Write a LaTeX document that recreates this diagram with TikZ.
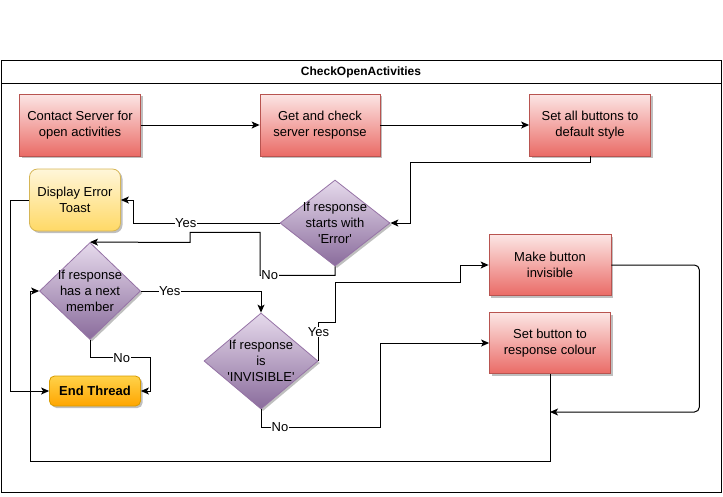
\documentclass[tikz,border=0pt]{standalone}
\usepackage{fontspec}
\setmainfont{Liberation Sans}
\usetikzlibrary{positioning}
\usetikzlibrary{arrows.meta}
\usetikzlibrary{shapes.geometric}
\usetikzlibrary{shadows}

\definecolor{redtop}{HTML}{FCE6E5}
\definecolor{redbot}{HTML}{EA6B66}
\definecolor{redline}{HTML}{B85450}
\definecolor{yeltop}{HTML}{FFF6D9}
\definecolor{yelbot}{HTML}{FFD966}
\definecolor{yelline}{HTML}{D6B656}
\definecolor{purtop}{HTML}{E6DAEC}
\definecolor{purbot}{HTML}{8A6C9C}
\definecolor{purline}{HTML}{9673A6}
\definecolor{oratop}{HTML}{FFD24A}
\definecolor{orabot}{HTML}{FFA500}
\definecolor{oraline}{HTML}{D79B00}

\begin{document}
\begin{tikzpicture}[x=1pt,y=-1pt,line width=1pt,>={Stealth[length=8pt,width=7pt,inset=2pt]},align=center,
  font=\fontsize{13}{15.7}\selectfont,
  shade/.style={drop shadow={shadow xshift=2pt,shadow yshift=-2pt,opacity=0.25,fill=black}},
  taskbox/.style={rectangle,draw=redline,line width=0.8pt,top color=redtop,bottom color=redbot,minimum width=121,minimum height=62,inner sep=0pt,shade},
  toastbox/.style={rectangle,rounded corners=8pt,draw=yelline,line width=0.8pt,top color=yeltop,bottom color=yelbot,minimum width=91,minimum height=62,inner sep=0pt,shade},
  endbox/.style={rectangle,rounded corners=5pt,draw=oraline,line width=0.8pt,top color=oratop,bottom color=orabot,minimum width=91,minimum height=30,inner sep=0pt,font=\fontsize{13}{15.7}\selectfont\bfseries,shade},
  test/.style={diamond,draw=purline,line width=0.8pt,top color=purtop,bottom color=purbot,inner sep=-8pt,shade},
  lbl/.style={fill=white,inner sep=0.5pt}]
  \useasboundingbox (0,0) rectangle (723,496);

  % frame with title bar
  \draw (1,60) rectangle (721,492);
  \draw (1,83) -- (721,83);
  \node (title) at (361,72) [font=\fontsize{12}{14}\selectfont\bfseries] {CheckOpenActivities};

  \node (contact) at (80,125)  [taskbox] {Contact Server for\\open activities};
  \node (getresp) at (320,125) [taskbox,minimum width=120] {Get and check\\server response};
  \node (setdef)  at (590,125) [taskbox] {Set all buttons to\\default style};
  \node (toast)   at (75,200)  [toastbox] {Display Error\\Toast};
  \node (iferr)   at (335,223) [test,minimum width=110,minimum height=86] {If response\\starts with\\\textquotesingle Error\textquotesingle};
  \node (ifnext)  at (90,291)  [test,minimum width=101,minimum height=97] {If response\\has a next\\member};
  \node (endthr)  at (95,391)  [endbox] {End Thread};
  \node (ifinv)   at (261,361) [test,minimum width=114,minimum height=96] {If response\\is\\\textquotesingle INVISIBLE\textquotesingle};
  \node (mkinv)   at (550,265) [taskbox,minimum width=122,minimum height=61] {Make button\\invisible};
  \node (setcol)  at (550,343) [taskbox,minimum height=61] {Set button to\\response colour};
  \coordinate (merge) at (550,412);

  \draw[->] (contact.east) -- (getresp.west);
  \draw[->] (getresp.east) -- (setdef.west);
  \draw[->] (setdef.south) -- ++(0,6) -| (410,223) -- (iferr.east);
  \draw[->] (iferr.west) -- node[lbl,pos=0.64] {Yes} (133,223) |- (toast.east);
  \draw[->] (iferr.south) -- ++(0,9) -- node[lbl,pos=0.87] {No} ++(-75,0) -- ++(0,-43) -- ++(-70,0) -- ++(0,10) -- (ifnext.north);
  \draw[->] (ifnext.east) -| node[lbl,pos=0.12] {Yes} (ifinv.north);
  \draw[->] (ifnext.south) -- ++(0,18) -- node[lbl,pos=0.53] {No} ++(60,0) |- (endthr.east);
  \draw[->] (toast.west) -- ++(-19,0) |- (endthr.west);
  \draw[->] (ifinv.east) -- node[lbl,pos=0.74] {Yes} ++(0,-39) -- ++(17,0) -- ++(0,-40) -- ++(125,0) |- (mkinv.west);
  \draw[->] (ifinv.south) -- ++(0,18) -- node[lbl,pos=0.16] {No} ++(119,0) |- (setcol.west);
  \draw[->,rounded corners=5pt] (mkinv.east) -- ++(88,0) |- (merge);
  \draw[->] (setcol.south) -- ++(0,88) -- ++(-520,0) |- (ifnext.west);
\end{tikzpicture}
\end{document}
